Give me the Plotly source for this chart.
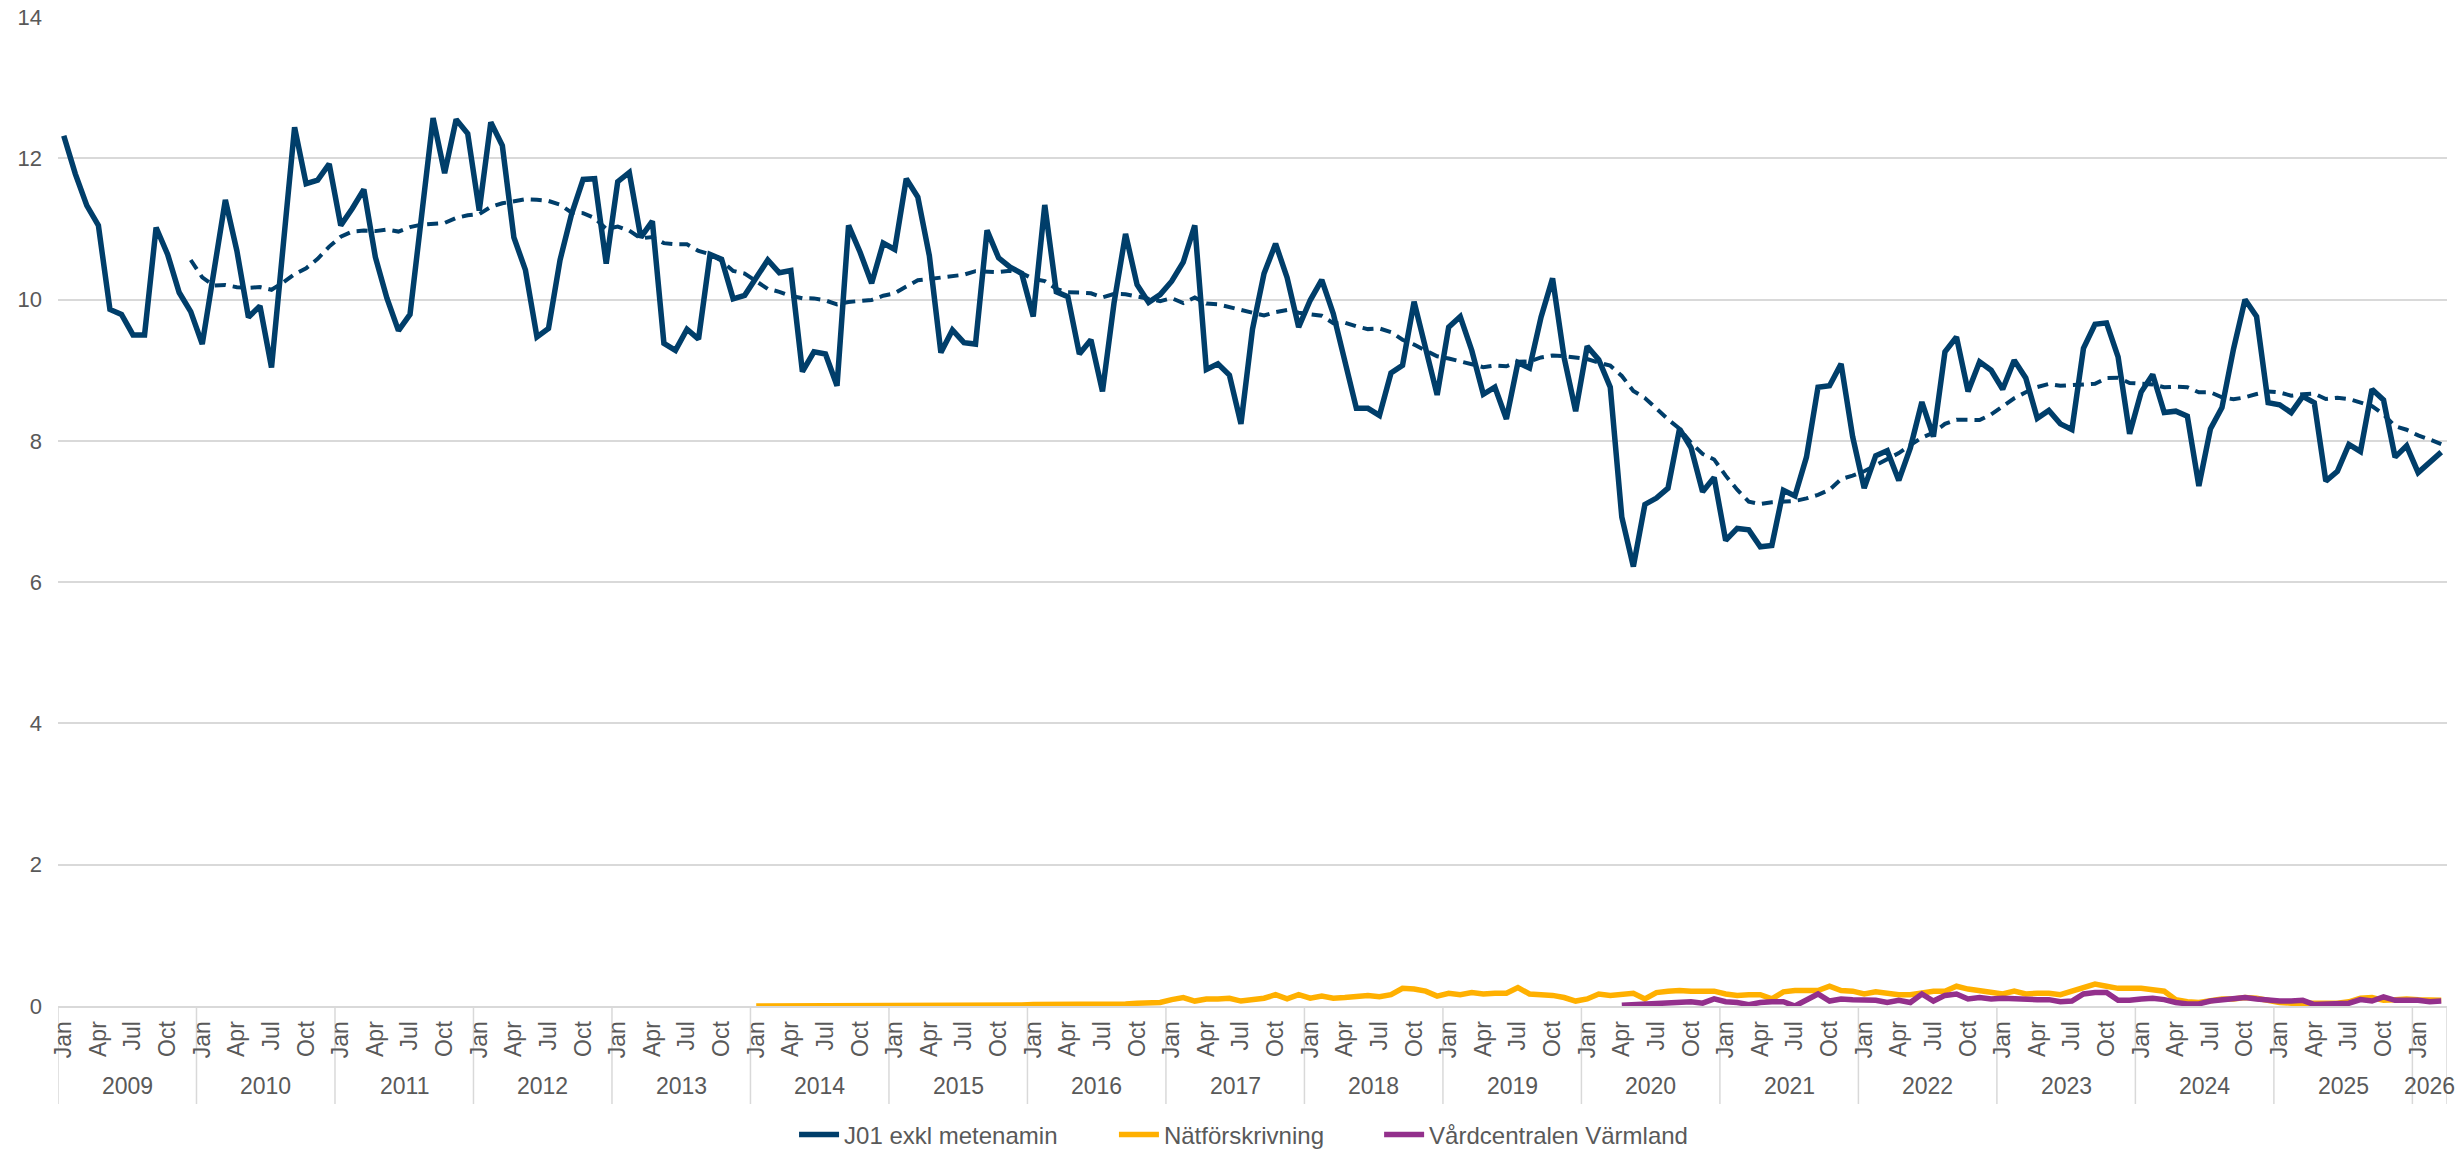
import pandas as pd
import plotly.graph_objects as go

# ---------------- data ----------------
years = [str(y) for y in range(2009, 2027)]
month_names = ["Jan", "Feb", "Mar", "Apr", "May", "Jun",
               "Jul", "Aug", "Sep", "Oct", "Nov", "Dec"]
shown_ticks = ["Jan", "Apr", "Jul", "Oct"]
n_months_last_year = 3  # Jan-Mar 2026

j01 = [
    12.32, 11.78, 11.33, 11.05, 9.86, 9.79, 9.50, 9.50, 11.02, 10.64, 10.10, 9.83,   # 2009
    9.37, 10.40, 11.41, 10.69, 9.75, 9.91, 9.04, 10.74, 12.44, 11.64, 11.69, 11.92,  # 2010
    11.05, 11.29, 11.56, 10.60, 10.02, 9.56, 9.79, 11.18, 12.57, 11.79, 12.55, 12.35,  # 2011
    11.26, 12.51, 12.18, 10.88, 10.42, 9.47, 9.59, 10.56, 11.21, 11.70, 11.71, 10.51,  # 2012
    11.67, 11.80, 10.88, 11.11, 9.38, 9.28, 9.58, 9.44, 10.64, 10.57, 10.01, 10.06,  # 2013
    10.31, 10.56, 10.38, 10.41, 8.98, 9.26, 9.23, 8.78, 11.05, 10.67, 10.23, 10.80,  # 2014
    10.71, 11.71, 11.45, 10.62, 9.25, 9.57, 9.39, 9.37, 10.98, 10.59, 10.46, 10.37,  # 2015
    9.76, 11.34, 10.11, 10.04, 9.23, 9.43, 8.70, 9.95, 10.93, 10.21, 9.96, 10.07,    # 2016
    10.26, 10.53, 11.05, 9.01, 9.09, 8.93, 8.24, 9.58, 10.37, 10.79, 10.31, 9.61,    # 2017
    9.99, 10.28, 9.80, 9.09, 8.46, 8.46, 8.36, 8.96, 9.07, 9.97, 9.28, 8.65,         # 2018
    9.61, 9.76, 9.28, 8.66, 8.76, 8.31, 9.11, 9.03, 9.75, 10.30, 9.18, 8.42,         # 2019
    9.34, 9.15, 8.76, 6.92, 6.22, 7.10, 7.19, 7.33, 8.17, 7.90, 7.28, 7.48,          # 2020
    6.59, 6.76, 6.74, 6.50, 6.52, 7.30, 7.22, 7.77, 8.76, 8.78, 9.09, 8.06,          # 2021
    7.33, 7.79, 7.86, 7.44, 7.90, 8.55, 8.06, 9.26, 9.47, 8.70, 9.12, 9.00,          # 2022
    8.73, 9.14, 8.89, 8.32, 8.43, 8.24, 8.16, 9.31, 9.65, 9.67, 9.19, 8.10,          # 2023
    8.69, 8.94, 8.40, 8.42, 8.35, 7.36, 8.17, 8.47, 9.30, 10.00, 9.76, 8.54,         # 2024
    8.51, 8.40, 8.63, 8.54, 7.43, 7.57, 7.95, 7.85, 8.73, 8.58, 7.77, 7.93,          # 2025
    7.55, 7.70, 7.84,                                                                 # 2026
]

# Nätförskrivning, from Jan 2014
natforskrivning = [
    0.00, 0.00, 0.005, 0.005, 0.01, 0.005, 0.005, 0.01, 0.01, 0.005, 0.01, 0.01,   # 2014
    0.01, 0.005, 0.01, 0.01, 0.01, 0.01, 0.01, 0.01, 0.015, 0.01, 0.015, 0.015,    # 2015
    0.02, 0.02, 0.02, 0.02, 0.03, 0.03, 0.03, 0.02, 0.03, 0.04, 0.04, 0.05,        # 2016
    0.09, 0.12, 0.07, 0.10, 0.10, 0.11, 0.07, 0.09, 0.11, 0.16, 0.10, 0.16,        # 2017
    0.11, 0.14, 0.11, 0.12, 0.14, 0.15, 0.13, 0.16, 0.25, 0.24, 0.21, 0.14,        # 2018
    0.18, 0.16, 0.19, 0.17, 0.18, 0.18, 0.26, 0.17, 0.16, 0.15, 0.12, 0.07,        # 2019
    0.10, 0.17, 0.15, 0.16, 0.18, 0.10, 0.19, 0.21, 0.22, 0.21, 0.21, 0.21,        # 2020
    0.17, 0.15, 0.16, 0.16, 0.10, 0.20, 0.22, 0.22, 0.22, 0.28, 0.22, 0.21,        # 2021
    0.17, 0.20, 0.18, 0.16, 0.16, 0.18, 0.21, 0.21, 0.28, 0.24, 0.22, 0.20,        # 2022
    0.17, 0.21, 0.17, 0.18, 0.18, 0.16, 0.21, 0.25, 0.31, 0.28, 0.25, 0.25,        # 2023
    0.25, 0.23, 0.21, 0.09, 0.06, 0.05, 0.08, 0.10, 0.10, 0.12, 0.11, 0.08,        # 2024
    0.05, 0.04, 0.04, 0.04, 0.03, 0.04, 0.06, 0.11, 0.12, 0.08, 0.09, 0.10,        # 2025
    0.09, 0.09, 0.08,                                                               # 2026
]
natf_start = "2014 Jan"

# Vårdcentralen Värmland, from Apr 2020
vardcentralen = [
    0.01, 0.02, 0.03, 0.04, 0.04, 0.05, 0.06, 0.04, 0.10,                          # 2020 Apr-Dec
    0.06, 0.05, 0.02, 0.05, 0.06, 0.06, 0.00, 0.09, 0.17, 0.07, 0.10, 0.09,        # 2021
    0.09, 0.08, 0.05, 0.08, 0.05, 0.17, 0.07, 0.15, 0.17, 0.10, 0.12, 0.10,        # 2022
    0.11, 0.10, 0.10, 0.09, 0.09, 0.06, 0.07, 0.17, 0.19, 0.19, 0.08, 0.08,        # 2023
    0.10, 0.11, 0.09, 0.05, 0.03, 0.03, 0.07, 0.09, 0.11, 0.12, 0.10, 0.08,        # 2024
    0.07, 0.07, 0.08, 0.02, 0.03, 0.03, 0.04, 0.09, 0.07, 0.13, 0.08, 0.08,        # 2025
    0.08, 0.06, 0.07,                                                               # 2026
]
vard_start = "2020 Apr"

trend_window = 12  # Excel "moving average" trendline period

# ---------------- category axis ----------------
categories, cat_year, cat_month = [], [], []
for y in years:
    n = n_months_last_year if y == years[-1] else 12
    for m in month_names[:n]:
        categories.append(f"{y} {m}")
        cat_year.append(y)
        cat_month.append(m)

tickvals = [c for c, m in zip(categories, cat_month) if m in shown_ticks]
ticktext = [m for m in cat_month if m in shown_ticks]

# year groups: first and last category index per year
year_first = {y: cat_year.index(y) for y in years}
year_last = {y: len(cat_year) - 1 - cat_year[::-1].index(y) for y in years}

i_natf = categories.index(natf_start)
i_vard = categories.index(vard_start)

trend = pd.Series(j01).rolling(trend_window).mean().tolist()

navy = "#003E6A"
orange = "#FFB000"
purple = "#93308C"
txt = "#595959"
grid = "#D9D9D9"
font_family = "Liberation Sans, Arial, sans-serif"

fig = go.Figure()
fig.add_trace(go.Scatter(x=categories, y=j01, mode="lines", name="J01 exkl metenamin",
                         line=dict(color=navy, width=5.5), legend="legend"))
fig.add_trace(go.Scatter(x=categories[i_natf:], y=natforskrivning, mode="lines",
                         name="Nätförskrivning",
                         line=dict(color=orange, width=5.5), legend="legend2"))
fig.add_trace(go.Scatter(x=categories[i_vard:], y=vardcentralen, mode="lines",
                         name="Vårdcentralen Värmland",
                         line=dict(color=purple, width=5.5), legend="legend3"))
fig.add_trace(go.Scatter(x=categories, y=trend, mode="lines", showlegend=False,
                         line=dict(color=navy, width=4, dash="11px,7px")))

leg_common = dict(orientation="h", y=-0.1304, yanchor="middle", xanchor="left",
                  font=dict(size=24, color=txt), itemwidth=40,
                  bgcolor="rgba(0,0,0,0)")
fig.update_layout(
    width=2460, height=1154,
    margin=dict(l=58, r=13, t=17, b=148, autoexpand=False),
    paper_bgcolor="white", plot_bgcolor="white",
    font=dict(family=font_family, size=23, color=txt),
    showlegend=True,
    legend=dict(x=0.3081, **leg_common),
    legend2=dict(x=0.4420, **leg_common),
    legend3=dict(x=0.5530, **leg_common),
)
fig.update_xaxes(
    type="category",
    categoryorder="array", categoryarray=categories,
    range=[-0.5, len(categories) - 0.5],
    tickmode="array", tickvals=tickvals, ticktext=ticktext,
    tickangle=-90, ticklabelstandoff=4,
    showgrid=False, showline=True, linecolor=grid, linewidth=2,
    ticks="", tickfont=dict(size=23, color=txt),
    automargin=False,
)
fig.update_yaxes(
    range=[0, 14], dtick=2, tick0=0,
    showgrid=True, gridcolor=grid, gridwidth=1.5,
    zeroline=False, showline=False, ticks="",
    tickfont=dict(size=22, color=txt),
    ticklabelstandoff=15,
    automargin=False,
)

# year group labels and dividers (Excel-style multi-level category axis)
year_label_y = -0.0809
divider_bottom = -0.0991
for y in years:
    fig.add_annotation(text=y, xref="x", yref="paper",
                       x=(year_first[y] + year_last[y]) / 2, y=year_label_y,
                       xanchor="center", yanchor="middle", showarrow=False,
                       font=dict(size=23, color=txt))
boundaries = [year_first[y] - 0.5 for y in years] + [len(categories) - 0.5]
for b in boundaries:
    fig.add_shape(type="line", xref="x", yref="paper", x0=b, x1=b,
                  y0=0, y1=divider_bottom, line=dict(color=grid, width=1.5),
                  layer="below")

fig.add_annotation(text="▲", xref="paper", yref="paper", x=0.8547, y=-0.1425,
                   xanchor="center", yanchor="top", showarrow=False,
                   font=dict(size=14, color="#1F2D5C"))

fig.write_html("out.html",
               config={"displayModeBar": False},
               post_script="document.body.style.margin='0';document.body.style.padding='0';")
